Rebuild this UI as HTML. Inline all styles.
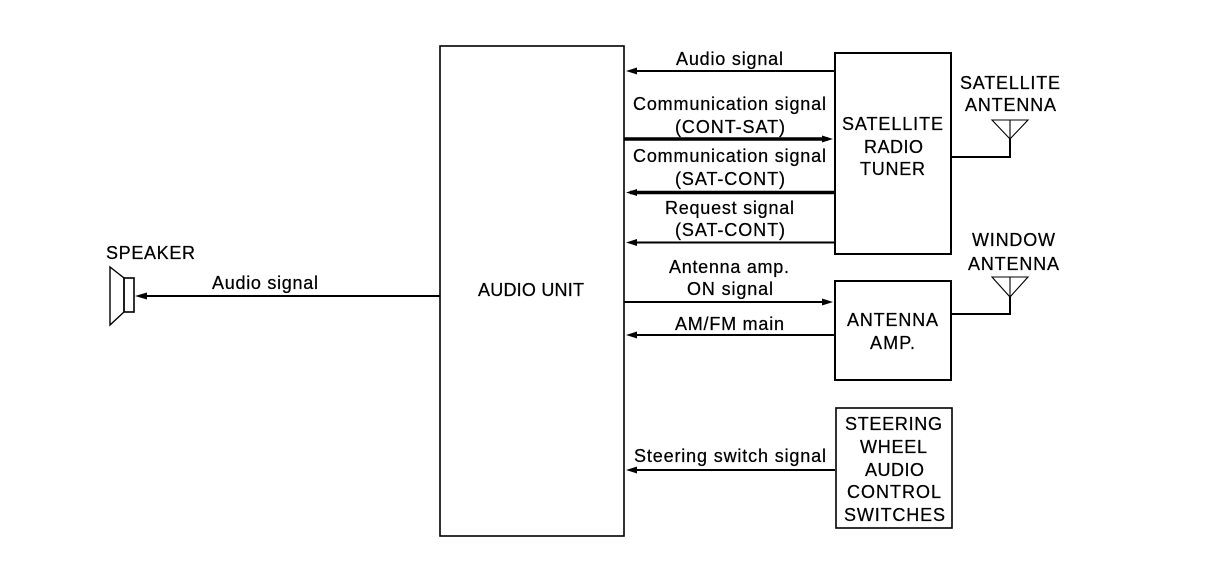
<!DOCTYPE html>
<html><head><meta charset="utf-8"><style>
html,body{margin:0;padding:0;background:#fff}
svg{display:block}
text{font-family:"Liberation Sans",sans-serif;font-size:18px;fill:#000;stroke:#000;stroke-width:.25}
</style></head><body>
<svg width="1216" height="582" viewBox="0 0 1216 582" xmlns="http://www.w3.org/2000/svg">
<rect width="1216" height="582" fill="#fff"/>
<g fill="none" stroke="#000" stroke-width="2">
<rect x="440" y="46" width="184" height="490" stroke-width="1.6"/>
<rect x="835" y="53" width="116" height="201"/>
<rect x="835" y="281" width="116" height="99"/>
<rect x="836" y="408" width="116" height="120" stroke-width="1.6"/>
<path stroke-width="1.4" d="M110 267L124 278V312L110 325Z"/>
<rect x="124" y="278" width="10" height="34" stroke-width="1.6"/>
<path d="M951 157H1010V139M951 314H1010V297" />
<path stroke-width="1.1" d="M992 120H1028L1010 139ZM992 277H1028L1010 297ZM1010 120V139M1010 277V297"/>
<path d="M835 71H630M835 242.5H630M624 302H828M835 335H630M835 470H630M440 296H142"/>
<path stroke-width="3.5" d="M624 139H828M835 192.5H630"/>
</g>
<g fill="#000">
<path d="M626 71L637 67.500V74.500ZM626 192.500L637 189V196ZM626 242.500L637 239V246ZM626 335L637 331.500V338.500ZM626 470L637 466.500V473.500ZM135 296L147 292.500V299.500Z"/>
<path d="M833 139L822 135.500V142.500ZM833 302L822 298.500V305.500Z"/>
</g>
<text x="676" y="65" textLength="107">Audio signal</text>
<text x="633" y="110" textLength="193">Communication signal</text>
<text x="675" y="133" textLength="110">(CONT-SAT)</text>
<text x="633" y="162" textLength="193">Communication signal</text>
<text x="675" y="185" textLength="110">(SAT-CONT)</text>
<text x="665" y="214" textLength="129">Request signal</text>
<text x="675" y="236" textLength="110">(SAT-CONT)</text>
<text x="669" y="273" textLength="120">Antenna amp.</text>
<text x="687" y="295" textLength="86">ON signal</text>
<text x="675" y="330" textLength="109">AM/FM main</text>
<text x="634" y="462" textLength="192">Steering switch signal</text>
<text x="478" y="296" textLength="106">AUDIO UNIT</text>
<text x="106" y="259" textLength="89">SPEAKER</text>
<text x="212" y="289" textLength="106">Audio signal</text>
<text x="842" y="130" textLength="101">SATELLITE</text>
<text x="864" y="153" textLength="59">RADIO</text>
<text x="860" y="175" textLength="65">TUNER</text>
<text x="960" y="89" textLength="100">SATELLITE</text>
<text x="965" y="111" textLength="91">ANTENNA</text>
<text x="972" y="246" textLength="83">WINDOW</text>
<text x="968" y="270" textLength="91">ANTENNA</text>
<text x="847" y="326" textLength="91">ANTENNA</text>
<text x="870" y="349" textLength="45">AMP.</text>
<text x="845" y="430" textLength="97">STEERING</text>
<text x="860" y="453" textLength="67">WHEEL</text>
<text x="865" y="476" textLength="59">AUDIO</text>
<text x="847" y="498" textLength="94">CONTROL</text>
<text x="844" y="521" textLength="101">SWITCHES</text>
</svg>
</body></html>
